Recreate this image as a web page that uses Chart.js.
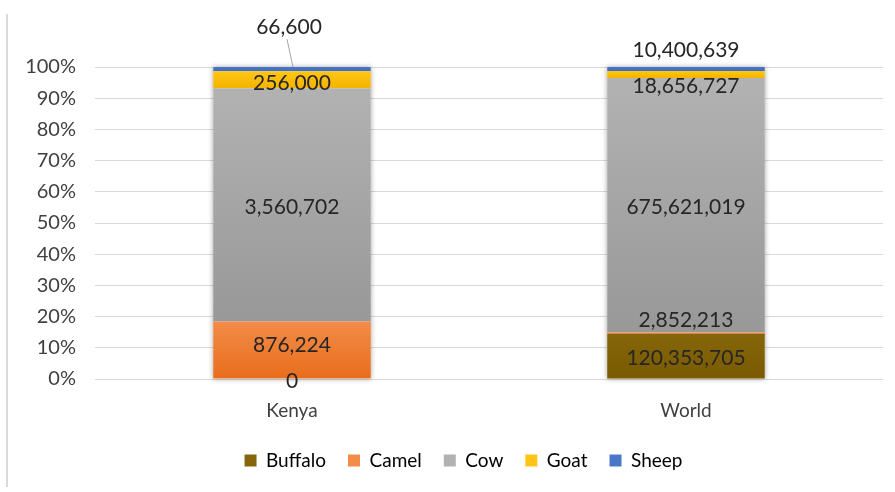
<!DOCTYPE html>
<html>
<head>
<meta charset="utf-8">
<script src="https://cdn.jsdelivr.net/npm/chart.js@4/dist/chart.umd.min.js"></script>
<style>
  html, body { margin: 0; padding: 0; background: #ffffff; }
  #wrap { width: 895px; height: 492px; position: relative; }
</style>
</head>
<body>
<div id="wrap"><canvas id="c" width="895" height="492"></canvas></div>
<script>
// Milk production by animal, Kenya vs World (tonnes)
const categories = ['Kenya', 'World'];
const seriesNames = ['Buffalo', 'Camel', 'Cow', 'Goat', 'Sheep'];
const buffalo = [0, 120353705];
const camel   = [876224, 2852213];
const cow     = [3560702, 675621019];
const goat    = [256000, 18656727];
const sheep   = [66600, 10400639];
const yTicks  = [0, 10, 20, 30, 40, 50, 60, 70, 80, 90, 100];

const seriesValues = [buffalo, camel, cow, goat, sheep];

// top / bottom shades of each series' vertical gradient
const shades = [
  ['#86660a', '#7a5a00'],
  ['#f28c48', '#e86d1c'],
  ['#b2b2b2', '#989898'],
  ['#ffc516', '#f4b400'],
  ['#4a78c9', '#3f6bbd']
];

const totals = categories.map((_, i) => seriesValues.reduce((s, arr) => s + arr[i], 0));
const shares = seriesValues.map(arr => arr.map((v, i) => v / totals[i] * 100));

const FONT = 'Lato, "Open Sans", sans-serif';

// label nudges (px) for labels that sit outside their segment
const labelNudge = {
  '4-0': -42, '3-0': 3, '1-0': -5, '0-0': 2,
  '4-1': -19, '3-1': 12, '1-1': -13, '0-1': 2, '2-1': 2, '2-0': 2
};

function gradientFor(ctx, dsIndex) {
  const chart = ctx.chart;
  const area = chart.chartArea;
  if (!area || ctx.type !== 'data') return shades[dsIndex][0];
  const y = chart.scales.y;
  const i = ctx.dataIndex;
  let base = 0;
  for (let k = 0; k < dsIndex; k++) base += shares[k][i];
  const top = y.getPixelForValue(base + shares[dsIndex][i]);
  const bot = y.getPixelForValue(base);
  if (!isFinite(top) || !isFinite(bot) || Math.abs(bot - top) < 0.5) return shades[dsIndex][0];
  const g = chart.ctx.createLinearGradient(0, top, 0, bot);
  g.addColorStop(0, shades[dsIndex][0]);
  g.addColorStop(1, shades[dsIndex][1]);
  return g;
}

const frame = {
  id: 'frame',
  afterLayout(chart) {
    // legend sits a little right of the canvas centre
    if (chart.legend) {
      chart.legend.left += 22;
      chart.legend.right += 22;
    }
  },
  beforeDraw(chart) {
    const c = chart.ctx;
    c.save();
    c.strokeStyle = '#dadada';
    c.lineWidth = 2;
    c.beginPath();
    c.moveTo(7, 14);
    c.lineTo(7, 487);
    c.stroke();
    c.restore();
  }
};

const barShadow = {
  id: 'barShadow',
  beforeDatasetsDraw(chart) {
    const c = chart.ctx;
    const first = chart.getDatasetMeta(0).data;
    const last = chart.getDatasetMeta(seriesNames.length - 1).data;
    c.save();
    c.shadowColor = 'rgba(0,0,0,0.35)';
    c.shadowBlur = 5;
    c.fillStyle = '#ffffff';
    first.forEach((el, i) => {
      const w = el.width;
      const top = last[i].y;
      const bot = first[i].base;
      c.fillRect(el.x - w / 2, top, w, bot - top);
    });
    c.restore();
  }
};

const valueLabels = {
  id: 'valueLabels',
  afterDatasetsDraw(chart) {
    const c = chart.ctx;
    c.save();
    c.font = '21px ' + FONT;
    c.fillStyle = '#262626';
    c.textAlign = 'center';
    c.textBaseline = 'middle';
    seriesNames.forEach((_, d) => {
      chart.getDatasetMeta(d).data.forEach((el, i) => {
        const cy = (el.y + el.base) / 2;
        const nudge = labelNudge[d + '-' + i] || 0;
        const text = seriesValues[d][i].toLocaleString('en-US');
        let x = el.x;
        if (d === 4 && i === 0) x = el.x - 3;
        c.fillText(text, x, cy + nudge);
        if (d === 4 && i === 0) {
          // leader line from the label down to its segment
          c.save();
          c.strokeStyle = '#a6a6a6';
          c.lineWidth = 1;
          c.beginPath();
          c.moveTo(x - 2, cy + nudge + 12);
          c.lineTo(el.x + 1, el.y);
          c.stroke();
          c.restore();
        }
      });
    });
    c.restore();
  }
};

new Chart(document.getElementById('c'), {
  type: 'bar',
  data: {
    labels: categories,
    datasets: seriesNames.map((name, d) => ({
      label: name,
      data: shares[d],
      backgroundColor: (ctx) => gradientFor(ctx, d),
      borderWidth: 0,
      categoryPercentage: 0.8,
      barPercentage: 0.5
    }))
  },
  options: {
    responsive: false,
    animation: false,
    devicePixelRatio: 1,
    layout: { padding: { top: 67, right: 12, left: 0, bottom: 12 } },
    scales: {
      x: {
        stacked: true,
        grid: { display: false, drawTicks: false },
        border: { display: false },
        ticks: { color: '#404040', font: { family: FONT, size: 19 }, padding: 20 },
        afterFit(scale) { scale.height = 50; }
      },
      y: {
        stacked: true,
        min: 0,
        max: 100,
        afterBuildTicks(scale) { scale.ticks = yTicks.map(v => ({ value: v })); },
        grid: { color: '#d9d9d9', lineWidth: 1, drawTicks: false },
        border: { display: false },
        ticks: {
          color: '#404040',
          font: { family: FONT, size: 20 },
          padding: 19,
          callback: (v) => v + '%'
        },
        afterFit(scale) { scale.width = 95; }
      }
    },
    plugins: {
      legend: {
        position: 'bottom',
        labels: {
          boxWidth: 12,
          boxHeight: 12,
          padding: 22,
          color: '#404040',
          font: { family: FONT, size: 19 },
          generateLabels(chart) {
            return seriesNames.map((name, d) => ({
              text: name,
              fillStyle: shades[d][0],
              strokeStyle: shades[d][0],
              lineWidth: 0,
              datasetIndex: d,
              hidden: false
            }));
          }
        }
      },
      tooltip: { enabled: false },
      title: { display: false }
    }
  },
  plugins: [frame, barShadow, valueLabels]
});
</script>
</body>
</html>
